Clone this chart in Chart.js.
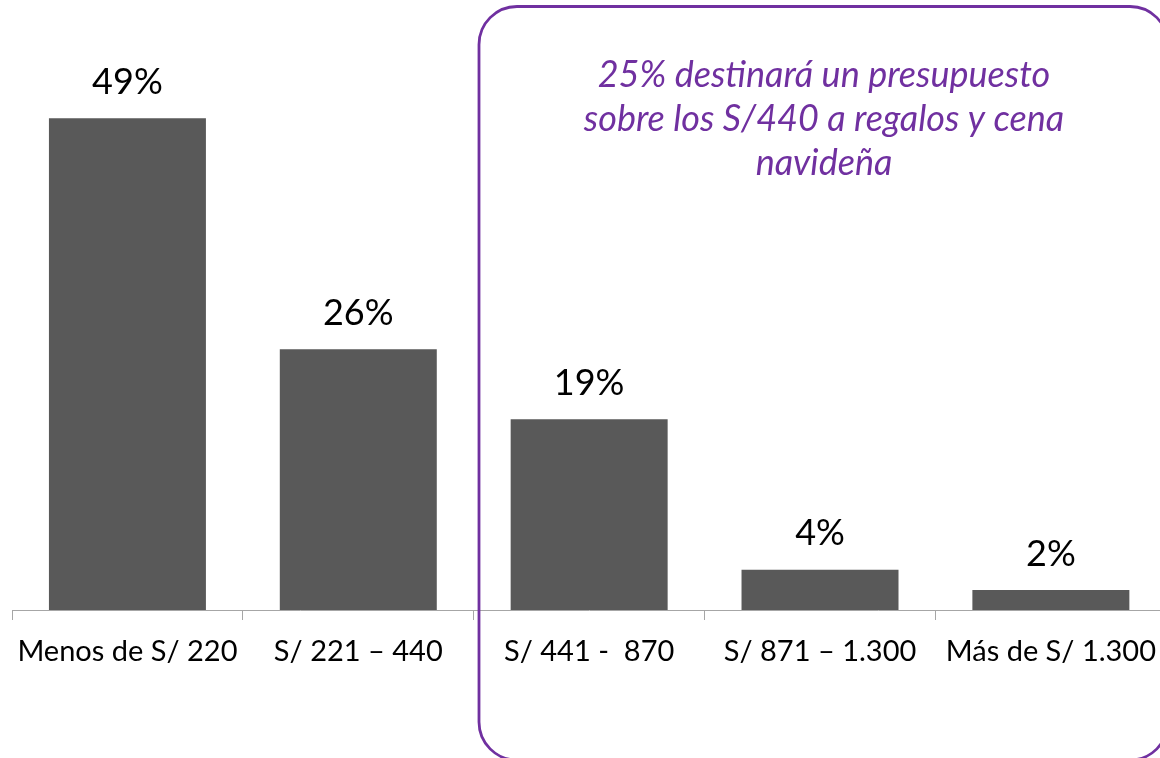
<!DOCTYPE html>
<html>
<head>
<meta charset="utf-8">
<script src="https://cdn.jsdelivr.net/npm/chart.js@4.4.0/dist/chart.umd.min.js"></script>
<style>
  html, body { margin: 0; padding: 0; background: #ffffff; overflow: hidden; }
  #wrap { position: relative; width: 1170px; height: 758px; }
</style>
</head>
<body>
<div id="wrap"><canvas id="c" width="1170" height="758"></canvas></div>
<script>
const categories = ['Menos de S/ 220', 'S/ 221 \u2013 440', 'S/ 441 -  870', 'S/ 871 \u2013 1.300', 'M\u00e1s de S/ 1.300'];
const values = [49, 26, 19, 4, 2];
const noteLines = ['25% destinar\u00e1 un presupuesto', 'sobre los S/440 a regalos y cena', 'navide\u00f1a'];

const FONT = 'Lato';
const PURPLE = '#7030A0';

const valueLabels = {
  id: 'valueLabels',
  afterDatasetsDraw(chart) {
    const ctx = chart.ctx;
    const meta = chart.getDatasetMeta(0);
    ctx.save();
    ctx.fillStyle = '#000000';
    ctx.font = '36px ' + FONT;
    ctx.textAlign = 'center';
    ctx.textBaseline = 'middle';
    meta.data.forEach((bar, i) => {
      ctx.fillText(values[i] + '%', bar.x, bar.y - 36);
    });
    ctx.restore();
  }
};

const noteBox = {
  id: 'noteBox',
  afterDraw(chart) {
    const ctx = chart.ctx;
    ctx.save();
    const x0 = 479, y0 = 6.5, x1 = 1168, y1 = 760, r = 38;
    ctx.strokeStyle = PURPLE;
    ctx.lineWidth = 2.8;
    ctx.beginPath();
    ctx.moveTo(x0 + r, y0);
    ctx.lineTo(x1 - r, y0);
    ctx.arcTo(x1, y0, x1, y0 + r, r);
    ctx.lineTo(x1, y1 - r);
    ctx.arcTo(x1, y1, x1 - r, y1, r);
    ctx.lineTo(x0 + r, y1);
    ctx.arcTo(x0, y1, x0, y1 - r, r);
    ctx.lineTo(x0, y0 + r);
    ctx.arcTo(x0, y0, x0 + r, y0, r);
    ctx.closePath();
    ctx.stroke();
    ctx.fillStyle = PURPLE;
    ctx.font = 'italic 36px ' + FONT;
    ctx.textAlign = 'center';
    ctx.textBaseline = 'alphabetic';
    noteLines.forEach((t, i) => ctx.fillText(t, 824, 87 + i * 44));
    ctx.restore();
  }
};

new Chart(document.getElementById('c'), {
  type: 'bar',
  data: {
    labels: categories,
    datasets: [{
      data: values,
      backgroundColor: '#595959',
      borderWidth: 0,
      barPercentage: 0.68,
      categoryPercentage: 1.0
    }]
  },
  options: {
    responsive: false,
    animation: false,
    events: [],
    layout: { padding: { left: 12, right: 0, top: 8, bottom: 0 } },
    plugins: { legend: { display: false }, tooltip: { enabled: false }, title: { display: false } },
    scales: {
      x: {
        offset: true,
        grid: { offset: true, drawOnChartArea: false, drawTicks: true, tickLength: 10, color: '#A6A6A6', lineWidth: 1 },
        border: { display: true, color: '#A6A6A6', width: 1 },
        ticks: { color: '#000000', font: { family: FONT, size: 29 }, padding: 14, maxRotation: 0, autoSkip: false },
        afterFit(scale) { scale.height = 148; }
      },
      y: {
        display: false,
        min: 0,
        max: 60
      }
    }
  },
  plugins: [valueLabels, noteBox]
});
</script>
</body>
</html>
